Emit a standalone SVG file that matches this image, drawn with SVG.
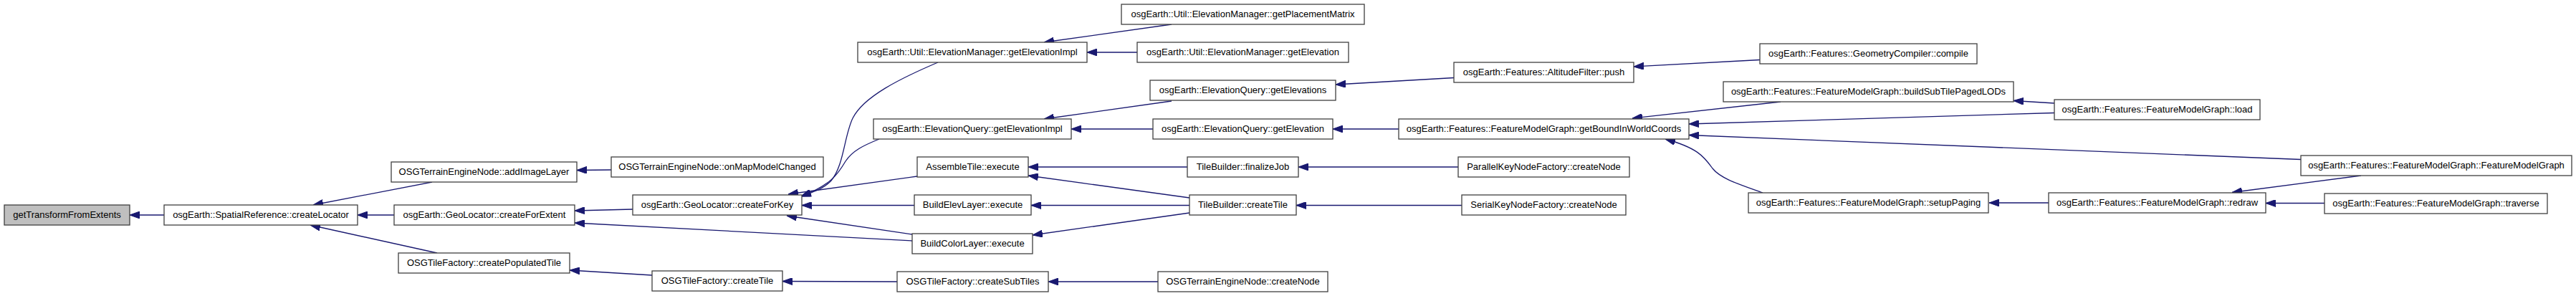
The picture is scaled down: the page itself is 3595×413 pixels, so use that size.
<svg xmlns="http://www.w3.org/2000/svg" width="3595" height="413" viewBox="0 0 3595 413">
<style>
.node rect{fill:#ffffff;stroke:#404040;stroke-width:1.3}
.node.root rect{fill:#bfbfbf}
.node text{font-family:"Liberation Sans",Arial,sans-serif;font-size:13px;fill:#000000;text-anchor:middle}
#edges path{fill:none;stroke:#191970;stroke-width:1.3;marker-end:url(#arr)}
</style>
<defs>
<marker id="arr" viewBox="0 0 14 10" markerUnits="userSpaceOnUse" markerWidth="14" markerHeight="10" refX="14" refY="5" orient="auto">
<path d="M0,0 L14,5 L0,10 z" fill="#191970" stroke="#191970" stroke-width="1"/>
</marker>
</defs>
<rect width="3595" height="413" fill="#ffffff"/>
<g id="edges">
<path d="M229,300 L181,300"/>
<path d="M603,254 L437,286"/>
<path d="M550,300 L499,300"/>
<path d="M610,353 L433,314"/>
<path d="M853,237 L805,237.5"/>
<path d="M883,292 L802,294"/>
<path d="M1273,336 L802,311"/>
<path d="M910,384 L795,377"/>
<path d="M1309,87 C1255,110 1205,135 1190,165 C1178,190 1178,230 1160,252 C1150,263 1135,268 1118,274"/>
<path d="M1227,194 C1205,203 1190,210 1180,225 C1170,242 1160,258 1118,274"/>
<path d="M1280,246 L1100,271"/>
<path d="M1276,286.5 L1119,286.5"/>
<path d="M1273,327 L1098,301"/>
<path d="M1252,393 L1092,392.5"/>
<path d="M1635,34 L1457,59"/>
<path d="M1587,73 L1517,73"/>
<path d="M1635,141 L1457,166"/>
<path d="M1609,180 L1495,180"/>
<path d="M1657,233 L1435,233"/>
<path d="M1660,276 L1435,245"/>
<path d="M1660,286.5 L1439,286.5"/>
<path d="M1660,297 L1441,328"/>
<path d="M1616,393 L1463,393"/>
<path d="M2029,108.5 L1864,118"/>
<path d="M1952,180 L1860,180"/>
<path d="M2035,233 L1812,233"/>
<path d="M2040,286.5 L1809,286.5"/>
<path d="M2456,83.5 L2280,93"/>
<path d="M2485,142 L2278,165"/>
<path d="M2867,157.5 L2357,173"/>
<path d="M3211,222.5 L2357,188.5"/>
<path d="M2460,269 C2430,258 2402,250 2390,235 C2378,218 2368,206 2324,194"/>
<path d="M2867,144 L2810,140.5"/>
<path d="M2859,283 L2776,283"/>
<path d="M3295,245 L3115,268.5"/>
<path d="M3244,283.5 L3162,283.5"/>
</g>
<g id="n0" class="node root"><rect x="6" y="286" width="175" height="28"/><text x="93.5" y="303.5">getTransformFromExtents</text></g>
<g id="n1" class="node"><rect x="229" y="286" width="270" height="28"/><text x="364" y="303.5">osgEarth::SpatialReference::createLocator</text></g>
<g id="n2" class="node"><rect x="546" y="226" width="259" height="28"/><text x="675.5" y="243.5">OSGTerrainEngineNode::addImageLayer</text></g>
<g id="n3" class="node"><rect x="550" y="286" width="252" height="28"/><text x="676" y="303.5">osgEarth::GeoLocator::createForExtent</text></g>
<g id="n4" class="node"><rect x="556" y="353" width="239" height="28"/><text x="675.5" y="370.5">OSGTileFactory::createPopulatedTile</text></g>
<g id="n5" class="node"><rect x="853" y="219" width="296" height="28"/><text x="1001" y="236.5">OSGTerrainEngineNode::onMapModelChanged</text></g>
<g id="n6" class="node"><rect x="883" y="272" width="236" height="28"/><text x="1001" y="289.5">osgEarth::GeoLocator::createForKey</text></g>
<g id="n7" class="node"><rect x="910" y="378" width="182" height="28"/><text x="1001" y="395.5">OSGTileFactory::createTile</text></g>
<g id="n8" class="node"><rect x="1197" y="59" width="320" height="28"/><text x="1357" y="76.5">osgEarth::Util::ElevationManager::getElevationImpl</text></g>
<g id="n9" class="node"><rect x="1219" y="166" width="276" height="28"/><text x="1357" y="183.5">osgEarth::ElevationQuery::getElevationImpl</text></g>
<g id="n10" class="node"><rect x="1280" y="219" width="155" height="28"/><text x="1357.5" y="236.5">AssembleTile::execute</text></g>
<g id="n11" class="node"><rect x="1276" y="272" width="163" height="28"/><text x="1357.5" y="289.5">BuildElevLayer::execute</text></g>
<g id="n12" class="node"><rect x="1273" y="326" width="168" height="28"/><text x="1357" y="343.5">BuildColorLayer::execute</text></g>
<g id="n13" class="node"><rect x="1252" y="379" width="211" height="28"/><text x="1357.5" y="396.5">OSGTileFactory::createSubTiles</text></g>
<g id="n14" class="node"><rect x="1565" y="6" width="339" height="28"/><text x="1734.5" y="23.5">osgEarth::Util::ElevationManager::getPlacementMatrix</text></g>
<g id="n15" class="node"><rect x="1587" y="59" width="295" height="28"/><text x="1734.5" y="76.5">osgEarth::Util::ElevationManager::getElevation</text></g>
<g id="n16" class="node"><rect x="1605" y="112" width="259" height="28"/><text x="1734.5" y="129.5">osgEarth::ElevationQuery::getElevations</text></g>
<g id="n17" class="node"><rect x="1609" y="166" width="251" height="28"/><text x="1734.5" y="183.5">osgEarth::ElevationQuery::getElevation</text></g>
<g id="n18" class="node"><rect x="1657" y="219" width="155" height="28"/><text x="1734.5" y="236.5">TileBuilder::finalizeJob</text></g>
<g id="n19" class="node"><rect x="1660" y="272" width="149" height="28"/><text x="1734.5" y="289.5">TileBuilder::createTile</text></g>
<g id="n20" class="node"><rect x="1616" y="379" width="237" height="28"/><text x="1734.5" y="396.5">OSGTerrainEngineNode::createNode</text></g>
<g id="n21" class="node"><rect x="2029" y="87" width="251" height="28"/><text x="2154.5" y="104.5">osgEarth::Features::AltitudeFilter::push</text></g>
<g id="n22" class="node"><rect x="1952" y="166" width="405" height="28"/><text x="2154.5" y="183.5">osgEarth::Features::FeatureModelGraph::getBoundInWorldCoords</text></g>
<g id="n23" class="node"><rect x="2035" y="219" width="239" height="28"/><text x="2154.5" y="236.5">ParallelKeyNodeFactory::createNode</text></g>
<g id="n24" class="node"><rect x="2040" y="272" width="229" height="28"/><text x="2154.5" y="289.5">SerialKeyNodeFactory::createNode</text></g>
<g id="n25" class="node"><rect x="2456" y="61" width="303" height="28"/><text x="2607.5" y="78.5">osgEarth::Features::GeometryCompiler::compile</text></g>
<g id="n26" class="node"><rect x="2405" y="114" width="405" height="28"/><text x="2607.5" y="131.5">osgEarth::Features::FeatureModelGraph::buildSubTilePagedLODs</text></g>
<g id="n27" class="node"><rect x="2440" y="269" width="335" height="28"/><text x="2607.5" y="286.5">osgEarth::Features::FeatureModelGraph::setupPaging</text></g>
<g id="n28" class="node"><rect x="2867" y="139" width="287" height="28"/><text x="3010.5" y="156.5">osgEarth::Features::FeatureModelGraph::load</text></g>
<g id="n29" class="node"><rect x="2859" y="269" width="303" height="28"/><text x="3010.5" y="286.5">osgEarth::Features::FeatureModelGraph::redraw</text></g>
<g id="n30" class="node"><rect x="3211" y="217" width="378" height="28"/><text x="3400" y="234.5">osgEarth::Features::FeatureModelGraph::FeatureModelGraph</text></g>
<g id="n31" class="node"><rect x="3244" y="270" width="311" height="28"/><text x="3399.5" y="287.5">osgEarth::Features::FeatureModelGraph::traverse</text></g>
</svg>
